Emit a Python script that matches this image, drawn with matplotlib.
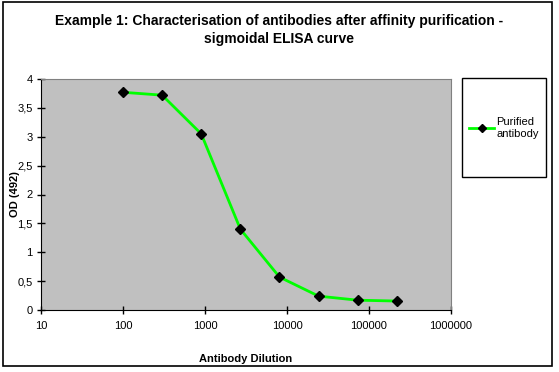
import matplotlib.pyplot as plt
from matplotlib.patches import Rectangle
from matplotlib.ticker import FixedLocator, FixedFormatter, NullLocator

plt.rcParams['font.family'] = ['Liberation Sans', 'DejaVu Sans']

dilution = [100, 300, 900, 2700, 8100, 24300, 72900, 218700]
od = [3.77, 3.72, 3.05, 1.40, 0.57, 0.24, 0.17, 0.155]

xticks = [10, 100, 1000, 10000, 100000, 1000000]
yticks = [0, 0.5, 1, 1.5, 2, 2.5, 3, 3.5, 4]
ylabels = ['0', '0,5', '1', '1,5', '2', '2,5', '3', '3,5', '4']

fig = plt.figure(figsize=(5.59, 3.72), dpi=100)
fig.patches.append(Rectangle((3 / 559, 1 - 366 / 372), 549 / 559, 364 / 372,
                             transform=fig.transFigure, fill=False,
                             edgecolor='black', linewidth=1.2))

ax = fig.add_axes([41 / 559, 1 - 310 / 372, 410 / 559, 231 / 372])
ax.set_facecolor('#c0c0c0')
line, = ax.plot(dilution, od, color='#00ff00', linewidth=2,
                marker='D', markersize=5.5, markerfacecolor='black',
                markeredgecolor='black', zorder=3)
ax.set_xscale('log')
ax.set_xlim(10, 1000000)
ax.set_ylim(0, 4)
ax.xaxis.set_major_locator(FixedLocator(xticks))
ax.xaxis.set_major_formatter(FixedFormatter([str(t) for t in xticks]))
ax.xaxis.set_minor_locator(NullLocator())
ax.set_yticks(yticks)
ax.set_yticklabels(ylabels)
ax.tick_params(labelsize=8, length=6, width=1, direction='inout', pad=3)
ax.tick_params(axis='x', pad=5)
for s in ['top', 'right']:
    ax.spines[s].set_color('#808080')
for s in ['left', 'bottom']:
    ax.spines[s].set_color('black')

ax.set_xlabel('Antibody Dilution', fontsize=8, fontweight='bold')
ax.xaxis.set_label_coords(0.5, (310 - 354) / 231)
ax.set_ylabel('OD (492)', fontsize=8, fontweight='bold')
ax.yaxis.set_label_coords((20 - 41) / 410, 0.5)

fig.text(0.5, 1 - 21 / 372, 'Example 1: Characterisation of antibodies after affinity purification -',
         ha='center', va='center', fontsize=10, fontweight='bold')
fig.text(0.5, 1 - 39 / 372, 'sigmoidal ELISA curve',
         ha='center', va='center', fontsize=10, fontweight='bold')

fig.patches.append(Rectangle((462 / 559, 1 - 177 / 372), 84 / 559, 99 / 372,
                             transform=fig.transFigure, fill=False,
                             edgecolor='black', linewidth=1))
fig.legend([line], ['Purified\nantibody'], loc='center',
           bbox_to_anchor=(504 / 559, 1 - 128 / 372), frameon=False,
           fontsize=8, handlelength=2.2, handletextpad=0.2, borderpad=0,
           markerscale=0.8)

fig.savefig('out.png', dpi=100)
